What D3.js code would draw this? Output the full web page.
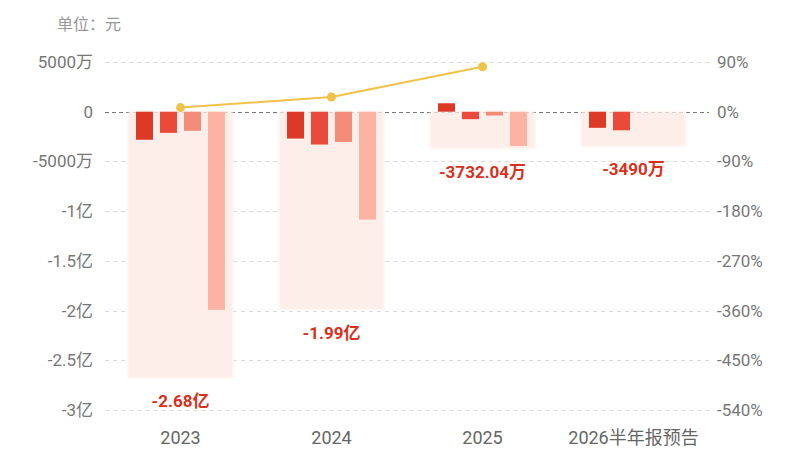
<!DOCTYPE html>
<html><head><meta charset="utf-8">
<script src="https://cdn.jsdelivr.net/npm/d3@7"></script>
<style>
html,body{margin:0;padding:0;background:#fff;}
svg{display:block;font-family:Roboto,"Noto Sans CJK SC",sans-serif;}
</style></head>
<body><svg id="c" width="800" height="450"></svg>
<script>
// ---- data ----
const categories = ["2023", "2024", "2025", "2026半年报预告"];
const quarters = ["Q1", "Q2", "Q3", "Q4"];
const q1Values = [-2820e4, -2700e4, 850e4, -1620e4];
const q2Values = [-2130e4, -3300e4, -750e4, -1870e4];
const q3Values = [-1920e4, -3050e4, -380e4, null];
const q4Values = [-19930e4, -10850e4, -3452.04e4, null];
const totalValues = [-2.68e8, -1.99e8, -3732.04e4, -3490e4];
const totalLabels = ["-2.68亿", "-1.99亿", "-3732.04万", "-3490万"];
const ratioValues = [7.5, 26.6, 81.5, null];
const leftTicks = [5e7, 0, -5e7, -1e8, -1.5e8, -2e8, -2.5e8, -3e8];
const leftTickLabels = ["5000万", "0", "-5000万", "-1亿", "-1.5亿", "-2亿", "-2.5亿", "-3亿"];
const rightTicks = [90, 0, -90, -180, -270, -360, -450, -540];
const unitLabel = "单位：元";

const barColors = ["#dc3a26", "#ea4a3a", "#f28c78", "#fcb3a4"];
const seriesValues = [q1Values, q2Values, q3Values, q4Values];

const svg = d3.select("#c");
const x0 = 105, x1 = 709, yTop = 62, yBot = 410;

const x = d3.scaleBand().domain(categories).range([x0, x1]).padding(0);
const yL = d3.scaleLinear().domain([-3e8, 5e7]).range([yBot, yTop]);
const yR = d3.scaleLinear().domain([-540, 90]).range([yBot, yTop]);

// unit label
svg.append("text").attr("x", 57).attr("y", 30).attr("fill", "#999").attr("font-size", 16).text(unitLabel);

// gridlines
svg.append("g").selectAll("line").data(leftTicks).join("line")
  .attr("x1", x0).attr("x2", x1)
  .attr("y1", d => Math.round(yL(d)) + 0.5).attr("y2", d => Math.round(yL(d)) + 0.5)
  .attr("stroke", d => d === 0 ? "#777" : "#dcdcdc")
  .attr("stroke-width", 1)
  .attr("stroke-dasharray", d => d === 0 ? "4,3" : "4,4");

// left axis
const leftAxis = d3.axisLeft(yL).tickValues(leftTicks)
  .tickFormat((d, i) => leftTickLabels[i]).tickSize(0).tickPadding(0);
const gl = svg.append("g").attr("transform", `translate(93,0)`).call(leftAxis);
gl.select(".domain").remove();
gl.selectAll("text").attr("fill", "#777").attr("font-size", 17).attr("font-family", 'Roboto,"Noto Sans CJK SC",sans-serif');

// right axis
const rightAxis = d3.axisRight(yR).tickValues(rightTicks)
  .tickFormat(d => d + "%").tickSize(0).tickPadding(0);
const gr = svg.append("g").attr("transform", `translate(717,0)`).call(rightAxis);
gr.select(".domain").remove();
gr.selectAll("text").attr("fill", "#777").attr("font-size", 17).attr("font-family", 'Roboto,"Noto Sans CJK SC",sans-serif');

// x axis
const xAxis = d3.axisBottom(x).tickSize(0).tickPadding(0);
const gx = svg.append("g").attr("transform", `translate(0,444)`).call(xAxis);
gx.select(".domain").remove();
gx.selectAll("text").attr("fill", "#666").attr("font-size", 18).attr("dy", "0")
  .attr("font-family", 'Roboto,"Noto Sans CJK SC",sans-serif');

// background total rects
const defs = svg.append("defs");
defs.append("filter").attr("id", "soft").attr("x", "-10%").attr("y", "-10%").attr("width", "120%").attr("height", "120%")
  .append("feGaussianBlur").attr("stdDeviation", 1.2);
const bgW = 105;
svg.append("g").selectAll("rect").data(categories).join("rect")
  .attr("x", d => x(d) + x.bandwidth() / 2 - bgW / 2)
  .attr("y", yL(0))
  .attr("width", bgW)
  .attr("height", (d, i) => yL(totalValues[i]) - yL(0))
  .attr("fill", "#fdeee9")
  .attr("filter", "url(#soft)");

// bars
const inner = d3.scaleBand().domain(quarters).range([-44.5, 44.5]).paddingInner(7 / 24).paddingOuter(0);
const barData = [];
categories.forEach((c, i) => {
  quarters.forEach((q, j) => {
    const v = seriesValues[j][i];
    if (v !== null && v !== undefined) barData.push({ c, q, j, v });
  });
});
svg.append("g").selectAll("rect").data(barData).join("rect")
  .attr("x", d => x(d.c) + x.bandwidth() / 2 + inner(d.q))
  .attr("width", inner.bandwidth())
  .attr("y", d => Math.min(yL(d.v), yL(0)))
  .attr("height", d => Math.abs(yL(d.v) - yL(0)))
  .attr("fill", d => barColors[d.j]);

// total labels
svg.append("g").selectAll("text").data(categories).join("text")
  .attr("x", d => x(d) + x.bandwidth() / 2)
  .attr("y", (d, i) => yL(totalValues[i]) + 29)
  .attr("text-anchor", "middle")
  .attr("fill", "#d8311e")
  .attr("font-size", 17)
  .attr("font-weight", "bold")
  .text((d, i) => totalLabels[i]);

// ratio line
const lineData = categories.map((c, i) => ({ c, v: ratioValues[i] })).filter(d => d.v !== null);
svg.append("path").datum(lineData)
  .attr("fill", "none").attr("stroke", "#f0c24a").attr("stroke-width", 2)
  .attr("d", d3.line().x(d => x(d.c) + x.bandwidth() / 2).y(d => yR(d.v)));
svg.append("g").selectAll("circle").data(lineData).join("circle")
  .attr("cx", d => x(d.c) + x.bandwidth() / 2)
  .attr("cy", d => yR(d.v))
  .attr("r", 4.5)
  .attr("fill", "#f0c24a");
</script>
</body></html>
